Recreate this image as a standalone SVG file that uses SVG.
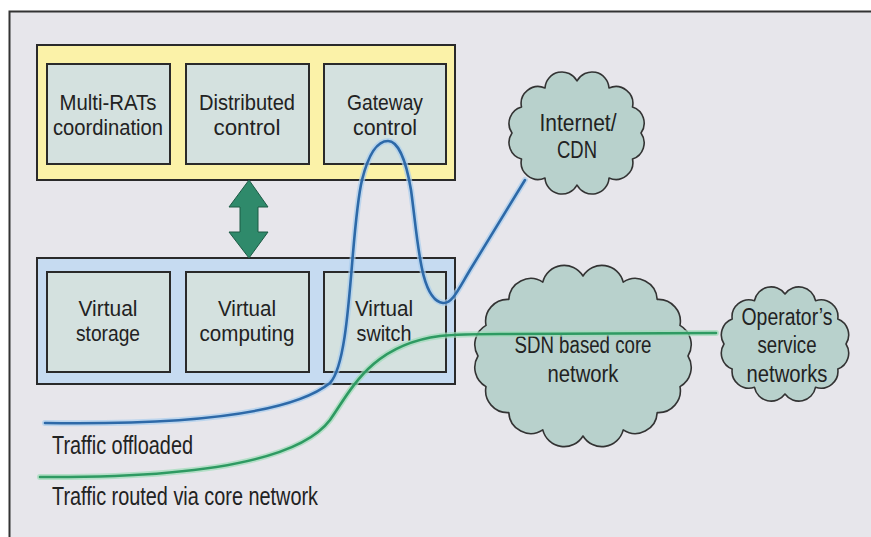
<svg xmlns="http://www.w3.org/2000/svg" width="871" height="537" viewBox="0 0 871 537">
<style>
.t{font-family:"Liberation Sans",Arial,sans-serif;font-size:22px;fill:#222;text-anchor:middle}
.tc{font-family:"Liberation Sans",Arial,sans-serif;font-size:23px;fill:#222;text-anchor:middle}
.tl{font-family:"Liberation Sans",Arial,sans-serif;font-size:25px;fill:#222;text-anchor:start}
.outer{stroke:#2a2a2a;stroke-width:2}
.inner{fill:#d4e1df;stroke:#2a2a2a;stroke-width:2}
.cloud{fill:#b8d1cc;stroke:#333;stroke-width:1.6;stroke-linejoin:round}
.halo{fill:none;stroke-width:6;stroke-linecap:round;opacity:.7}
.ln{fill:none;stroke-width:2.6;stroke-linecap:round}
</style>
<rect x="0" y="0" width="871" height="537" fill="#ffffff"/>
<rect x="9.5" y="11.5" width="875" height="540" fill="#e7e6eb" stroke="#333" stroke-width="2"/>

<g id="control-layer">
<rect class="outer" x="37" y="45" width="418" height="135" fill="#fbf2a8"/>
</g>
<g id="multi-rats">
<rect class="inner" x="47" y="64" width="123" height="100"/>
<text class="t" x="108" y="110" textLength="97" lengthAdjust="spacingAndGlyphs">Multi-RATs</text>
<text class="t" x="108" y="135" textLength="110" lengthAdjust="spacingAndGlyphs">coordination</text>
</g>
<g id="distributed-control">
<rect class="inner" x="186" y="64" width="123" height="100"/>
<text class="t" x="247" y="110" textLength="96" lengthAdjust="spacingAndGlyphs">Distributed</text>
<text class="t" x="247" y="135" textLength="67" lengthAdjust="spacingAndGlyphs">control</text>
</g>
<g id="gateway-control">
<rect class="inner" x="324" y="64" width="122" height="100"/>
<text class="t" x="385" y="110" textLength="76" lengthAdjust="spacingAndGlyphs">Gateway</text>
<text class="t" x="385" y="135" textLength="64" lengthAdjust="spacingAndGlyphs">control</text>
</g>

<g id="virtual-layer">
<rect class="outer" x="37" y="258" width="418" height="126" fill="#c6dbf1"/>
</g>
<g id="virtual-storage">
<rect class="inner" x="47" y="272" width="123" height="100"/>
<text class="t" x="108" y="316" textLength="59" lengthAdjust="spacingAndGlyphs">Virtual</text>
<text class="t" x="108" y="341" textLength="64" lengthAdjust="spacingAndGlyphs">storage</text>
</g>
<g id="virtual-computing">
<rect class="inner" x="186" y="272" width="123" height="100"/>
<text class="t" x="247" y="316" textLength="58" lengthAdjust="spacingAndGlyphs">Virtual</text>
<text class="t" x="247" y="341" textLength="95" lengthAdjust="spacingAndGlyphs">computing</text>
</g>
<g id="virtual-switch">
<rect class="inner" x="324" y="272" width="122" height="100"/>
<text class="t" x="384" y="316" textLength="58" lengthAdjust="spacingAndGlyphs">Virtual</text>
<text class="t" x="384" y="341" textLength="55" lengthAdjust="spacingAndGlyphs">switch</text>
</g>

<g id="internet-cdn">
<path class="cloud" d="M641,133 A17,17 0 0 1 632.5,159 A17,17 0 0 1 609,178 A17,17 0 0 1 577,185 A17,17 0 0 1 545,178 A17,17 0 0 1 521.5,159 A17,17 0 0 1 512,133 A17,17 0 0 1 521.5,107 A17,17 0 0 1 545,88 A17,17 0 0 1 577,81 A17,17 0 0 1 609,88 A17,17 0 0 1 632.5,107 A17,17 0 0 1 641,133 Z"/>
<text class="tc" x="578" y="131" textLength="77" lengthAdjust="spacingAndGlyphs">Internet/</text>
<text class="tc" x="577" y="158" textLength="40" lengthAdjust="spacingAndGlyphs">CDN</text>
</g>

<g id="sdn-core">
<path class="cloud" d="M688,356 A22,22 0 0 1 680,386.6 A22,22 0 0 1 657.2,412.6 A22,22 0 0 1 623.2,429.9 A22,22 0 0 1 583,436 A22,22 0 0 1 542.8,429.9 A22,22 0 0 1 508.8,412.6 A22,22 0 0 1 486,386.6 A22,22 0 0 1 478,356 A22,22 0 0 1 486,325.4 A22,22 0 0 1 508.8,299.4 A22,22 0 0 1 542.8,282.1 A22,22 0 0 1 583,276 A22,22 0 0 1 623.2,282.1 A22,22 0 0 1 657.2,299.4 A22,22 0 0 1 680,325.4 A22,22 0 0 1 688,356 Z"/>
<text class="tc" x="583" y="353" textLength="137" lengthAdjust="spacingAndGlyphs">SDN based core</text>
<text class="tc" x="583" y="382" textLength="71" lengthAdjust="spacingAndGlyphs">network</text>
</g>

<g id="operator-networks">
<path class="cloud" d="M846,344 A17,17 0 0 1 837.8,369 A17,17 0 0 1 815.5,387.3 A17,17 0 0 1 785,394 A17,17 0 0 1 754.5,387.3 A17,17 0 0 1 732.2,369 A17,17 0 0 1 724,344 A17,17 0 0 1 732.2,319 A17,17 0 0 1 754.5,300.7 A17,17 0 0 1 785,294 A17,17 0 0 1 815.5,300.7 A17,17 0 0 1 837.8,319 A17,17 0 0 1 846,344 Z"/>
<text class="tc" x="787" y="325" textLength="91" lengthAdjust="spacingAndGlyphs">Operator’s</text>
<text class="tc" x="787" y="353" textLength="59" lengthAdjust="spacingAndGlyphs">service</text>
<text class="tc" x="787" y="382" textLength="81" lengthAdjust="spacingAndGlyphs">networks</text>
</g>

<g id="connectors">
<polygon points="249,180 268,207 258,207 258,232 268,232 249,258 229,232 240,232 240,207 229,207" fill="#2f8a6b" stroke="#1d5a45" stroke-width="1" stroke-linejoin="round"/>
<path class="halo" stroke="#a9cdee" d="M45,423 C180,425 290,415 330,383 C352,360 350,230 362,180 C370,148 380,141 388,141 C398,141 406,160 411,190 C418,240 420,300 443,303 C452,304 458,290 470,270 L525,180"/>
<path class="ln" stroke="#2d69a8" d="M45,423 C180,425 290,415 330,383 C352,360 350,230 362,180 C370,148 380,141 388,141 C398,141 406,160 411,190 C418,240 420,300 443,303 C452,304 458,290 470,270 L525,180"/>
<path class="halo" stroke="#9edbb8" d="M40,477 C200,478 300,460 330,420 C350,392 370,345 440,336 C460,334 480,334 500,334 L716,333"/>
<path class="ln" stroke="#2e9a62" d="M40,477 C200,478 300,460 330,420 C350,392 370,345 440,336 C460,334 480,334 500,334 L716,333"/>
</g>

<g id="legend">
<text class="tl" x="52" y="454" textLength="141" lengthAdjust="spacingAndGlyphs">Traffic offloaded</text>
<text class="tl" x="52" y="505" textLength="266" lengthAdjust="spacingAndGlyphs">Traffic routed via core network</text>
</g>
</svg>
